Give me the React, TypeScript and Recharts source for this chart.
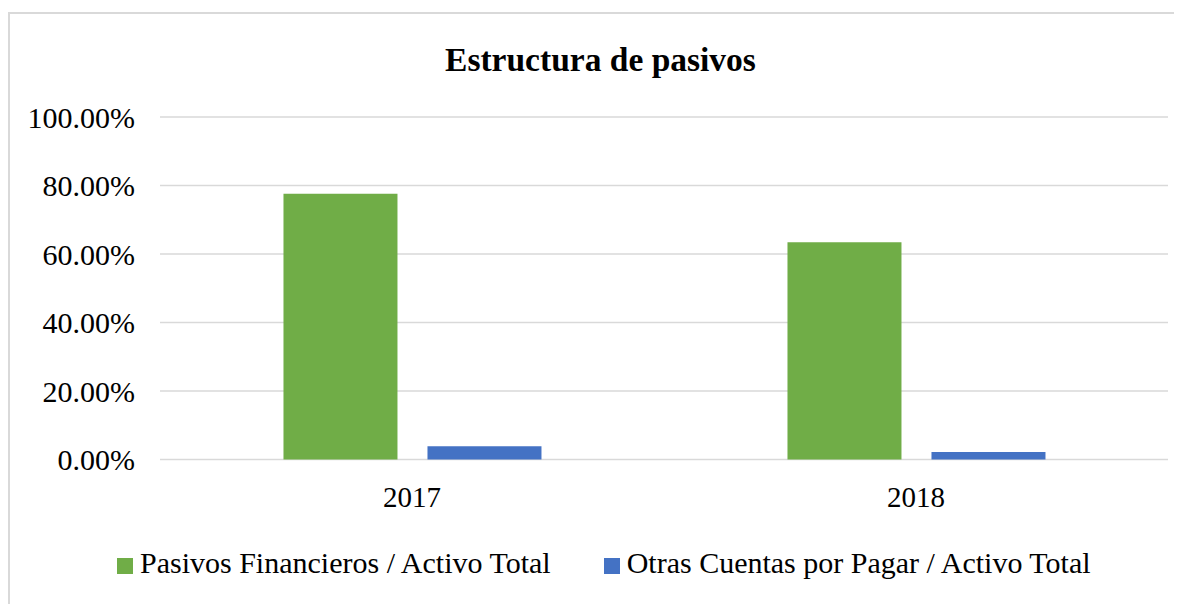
import { BarChart, Bar, XAxis, YAxis, CartesianGrid, Legend } from "recharts";

const years = ["2017", "2018"];
const pasivosFinancieros = [77.6, 63.4];
const otrasCuentas = [3.9, 2.2];
const yTicks = [0, 20, 40, 60, 80, 100];
const seriesOrder = ["pf", "oc"];

const data = years.map((year, i) => ({
  year,
  pf: pasivosFinancieros[i],
  oc: otrasCuentas[i],
}));

const FONT = '"Liberation Serif", "Times New Roman", serif';

export default function App() {
  return (
    <div
      style={{
        position: "relative",
        marginTop: 4,
        width: 1174,
        height: 590,
        borderLeft: "2px solid #d9d9d9",
        borderTop: "2px solid #d9d9d9",
        fontFamily: FONT,
        background: "#fff",
      }}
    >
      <div
        style={{
          position: "absolute",
          top: 29,
          left: 0,
          width: 1181,
          textAlign: "center",
          fontSize: 33.5,
          lineHeight: "34px",
          fontWeight: "bold",
          color: "#000",
        }}
      >
        Estructura de pasivos
      </div>
      <BarChart
        width={1170}
        height={588}
        data={data}
        margin={{ top: 103, right: 12, left: 0, bottom: 12.5 }}
        barCategoryGap="24.5%"
        barGap={30}
      >
        <CartesianGrid vertical={false} stroke="#d9d9d9" strokeWidth={1.5} />
        <XAxis
          dataKey="year"
          axisLine={false}
          tickLine={false}
          height={90}
          tickMargin={21}
          tick={{ fill: "#000", fontSize: 29, fontFamily: FONT }}
        />
        <YAxis
          domain={[0, 100]}
          ticks={yTicks}
          width={150}
          axisLine={false}
          tickLine={false}
          tickMargin={19}
          tickFormatter={(v: number) => v.toFixed(2) + "%"}
          tick={{ fill: "#000", fontSize: 30, fontFamily: FONT }}
        />
        <Legend
          verticalAlign="bottom"
          align="left"
          height={40}
          iconType="square"
          iconSize={16}
          itemSorter={(item: any) => seriesOrder.indexOf(item.dataKey)}
          wrapperStyle={{ left: 107, top: 532, width: 1060, fontSize: 30 }}
          formatter={(value: string) => (
            <span
              style={{
                color: "#000",
                fontSize: 30,
                fontFamily: FONT,
                marginLeft: 3,
                marginRight: 43,
              }}
            >
              {value}
            </span>
          )}
        />
        <Bar
          dataKey="pf"
          name="Pasivos Financieros / Activo Total"
          fill="#70ad47"
          isAnimationActive={false}
        />
        <Bar
          dataKey="oc"
          name="Otras Cuentas por Pagar / Activo Total"
          fill="#4472c4"
          isAnimationActive={false}
        />
      </BarChart>
    </div>
  );
}
